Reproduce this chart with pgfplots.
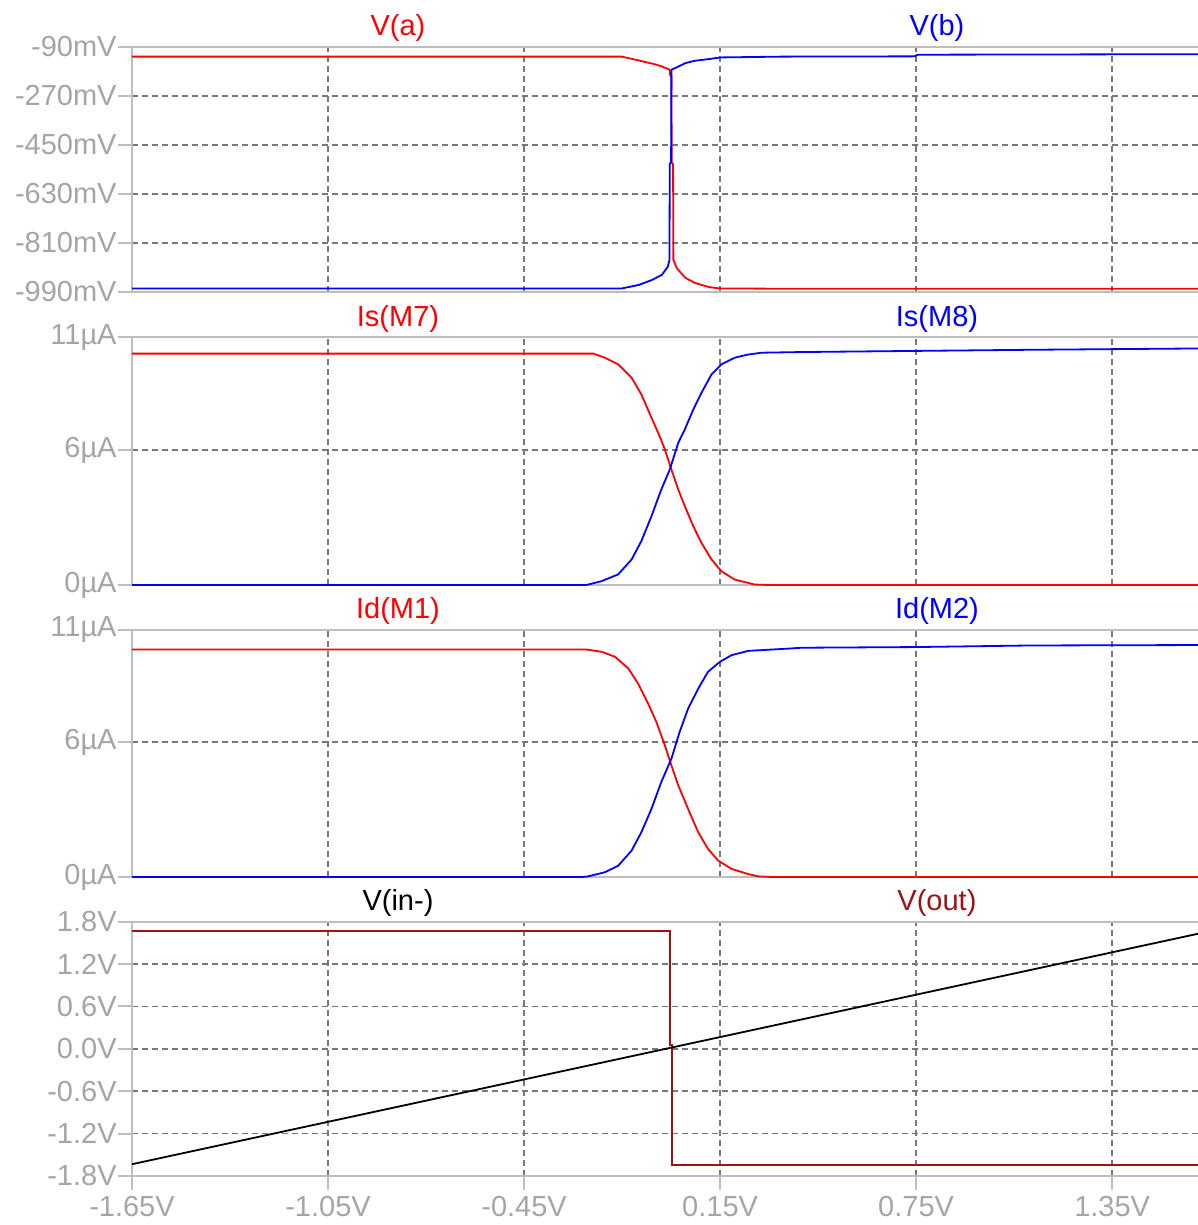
\documentclass[border=0pt]{standalone}
\usepackage{fontspec}
\setmainfont{Liberation Sans}
\usepackage{pgfplots}
\pgfplotsset{compat=1.18}
\definecolor{framec}{RGB}{190,190,190}
\definecolor{gridc}{RGB}{120,120,120}
\definecolor{labc}{RGB}{165,165,165}
\definecolor{lred}{RGB}{255,0,0}
\definecolor{lblue}{RGB}{0,0,255}
\definecolor{dred}{RGB}{155,20,20}
\newcommand{\fs}{\fontsize{14.5}{17}\selectfont}
\pgfplotsset{
 lt/.style={
  scale only axis, width=535pt, xmin=-1.65, xmax=1.625,
  anchor=south west, clip=false,
  axis line style={framec, line width=1pt},
  tick align=outside, major tick length=7pt,
  tick style={framec, line width=1pt},
  grid=major,
  major grid style={gridc, line width=0.8pt, dash pattern=on 3pt off 2pt},
  tick label style={font=\fs, text=labc},
  yticklabel style={inner sep=0.5pt},
  xticklabel style={inner sep=3pt},
  xtick pos=left, ytick pos=left,
  xtick={-1.05,-0.45,0.15,0.75,1.35},
  extra y tick style={grid=none},
  extra x tick style={grid=none},
  every axis plot/.append style={line width=0.9pt, line join=round},
  /pgf/number format/assume math mode=true,
 },
 upper/.style={xticklabels={}, xtick style={draw=none}},
 ua/.style={ymin=0, ymax=11, ytick={6}, yticklabels={6µA},
   extra y ticks={0,11}, extra y tick labels={0µA,11µA}},
}
\begin{document}
\begin{tikzpicture}
\useasboundingbox (0pt,0pt) rectangle (599pt,-612.5pt);
% Panel 1
\begin{axis}[lt, upper, at={(66pt,-146pt)}, height=122.6pt,
  ymin=-990, ymax=-90,
  ytick={-810,-630,-450,-270}, yticklabels={-810mV,-630mV,-450mV,-270mV},
  extra y ticks={-990,-90}, extra y tick labels={-990mV,-90mV}]
\addplot[lred] coordinates {(-1.65,-126) (-0.151,-126) (-0.099,-140) (-0.053,-153) (-0.028,-162) (-0.004,-174) (-0.003,-193) (0.001,-200) (0.002,-515) (0.006,-520) (0.007,-872) (0.0177,-903) (0.0436,-938) (0.0735,-957) (0.116,-972) (0.15,-977) (0.35,-978) (1.625,-978)};
\addplot[lblue] coordinates {(-1.65,-977) (-0.151,-977) (-0.099,-964) (-0.059,-946) (-0.028,-927) (-0.010,-897) (-0.005,-872) (-0.004,-520) (0.000,-515) (0.001,-174) (0.0125,-168) (0.0436,-150) (0.0735,-141) (0.116,-135) (0.15,-129) (0.34,-126) (0.745,-125) (0.755,-119) (1.625,-117)};
\node[font=\fs, text=lred, anchor=base, yshift=5.5pt] at (axis description cs:0.2486,1) {V(a)};
\node[font=\fs, text=lblue, anchor=base, yshift=5.5pt] at (axis description cs:0.7523,1) {V(b)};
\end{axis}
% Panel 2
\begin{axis}[lt, upper, ua, at={(66pt,-292.5pt)}, height=123.8pt]
\addplot[lred] coordinates {(-1.65,10.28) (-0.238,10.28) (-0.203,10.10) (-0.162,9.80) (-0.121,9.21) (-0.091,8.47) (-0.060,7.43) (-0.035,6.61) (-0.019,6.02) (0.001,5.13) (0.022,4.24) (0.042,3.50) (0.068,2.61) (0.093,1.87) (0.124,1.13) (0.154,0.61) (0.195,0.24) (0.256,0.02) (0.30,0) (1.625,0)};
\addplot[lblue] coordinates {(-1.65,0) (-0.26,0) (-0.254,0.02) (-0.213,0.17) (-0.162,0.47) (-0.121,1.13) (-0.091,1.95) (-0.060,3.06) (-0.030,4.24) (-0.004,5.13) (0.022,6.32) (0.042,6.91) (0.068,7.80) (0.093,8.54) (0.124,9.36) (0.154,9.80) (0.195,10.10) (0.236,10.24) (0.277,10.32) (0.40,10.35) (0.75,10.40) (1.10,10.45) (1.625,10.51)};
\node[font=\fs, text=lred, anchor=base, yshift=5.5pt] at (axis description cs:0.2486,1) {Is(M7)};
\node[font=\fs, text=lblue, anchor=base, yshift=5.5pt] at (axis description cs:0.7523,1) {Is(M8)};
\end{axis}
% Panel 3
\begin{axis}[lt, upper, ua, at={(66pt,-438.5pt)}, height=123.75pt]
\addplot[lred] coordinates {(-1.65,10.11) (-0.259,10.11) (-0.213,10.01) (-0.172,9.79) (-0.131,9.27) (-0.101,8.60) (-0.070,7.70) (-0.045,6.89) (-0.019,5.85) (0.001,4.96) (0.022,4.07) (0.052,3.03) (0.083,1.99) (0.113,1.25) (0.144,0.73) (0.185,0.36) (0.236,0.13) (0.266,0.03) (0.31,0) (1.625,0)};
\addplot[lblue] coordinates {(-1.65,0) (-0.27,0) (-0.254,0.03) (-0.203,0.21) (-0.162,0.50) (-0.121,1.17) (-0.091,1.99) (-0.060,3.03) (-0.030,4.22) (0.001,5.26) (0.026,6.44) (0.052,7.48) (0.083,8.37) (0.113,9.12) (0.149,9.56) (0.185,9.86) (0.236,10.05) (0.358,10.15) (0.40,10.19) (0.75,10.22) (1.10,10.29) (1.625,10.31)};
\node[font=\fs, text=lred, anchor=base, yshift=5.5pt] at (axis description cs:0.2486,1) {Id(M1)};
\node[font=\fs, text=lblue, anchor=base, yshift=5.5pt] at (axis description cs:0.7523,1) {Id(M2)};
\end{axis}
% Panel 4
\begin{axis}[lt, at={(66pt,-588pt)}, height=127.15pt,
  xticklabels={-1.05V,-0.45V,0.15V,0.75V,1.35V},
  extra x ticks={-1.65}, extra x tick labels={-1.65V},
  ymin=-1.8, ymax=1.8,
  ytick={-1.2,-0.6,0,0.6,1.2}, yticklabels={-1.2V,-0.6V,0.0V,0.6V,1.2V},
  extra y ticks={-1.8,1.8}, extra y tick labels={-1.8V,1.8V}]
\addplot[dred, line join=miter] coordinates {(-1.65,1.663) (-0.003,1.663) (-0.003,0.06) (0.002,0.06) (0.002,-1.64) (0.0106,-1.64) (1.625,-1.64)};
\addplot[black] coordinates {(-1.65,-1.633) (1.625,1.642)};
\node[font=\fs, text=black, anchor=base, yshift=5.5pt] at (axis description cs:0.2486,1) {V(in-)};
\node[font=\fs, text=dred, anchor=base, yshift=5.5pt] at (axis description cs:0.7523,1) {V(out)};
\end{axis}
\end{tikzpicture}
\end{document}
